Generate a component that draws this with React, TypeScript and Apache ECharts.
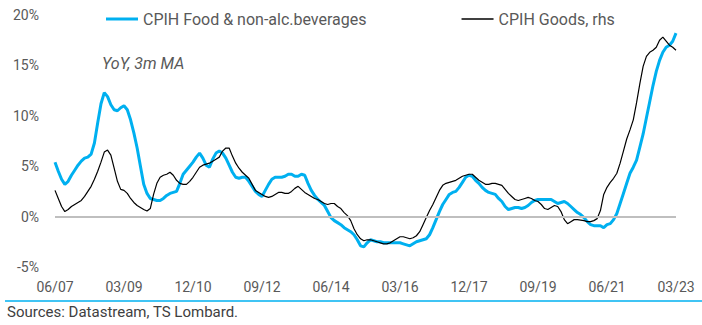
import React, { useEffect, useRef } from "react";
import * as echarts from "echarts";

// Monthly categories 06/07 .. 03/23
const START_YEAR = 2007;
const START_MONTH = 6;
const N_MONTHS = 190;
const months: string[] = [];
for (let i = 0; i < N_MONTHS; i++) {
  const m = ((START_MONTH - 1 + i) % 12) + 1;
  const y = START_YEAR + Math.floor((START_MONTH - 1 + i) / 12);
  months.push(String(m).padStart(2, "0") + "/" + String(y % 100).padStart(2, "0"));
}

const food: number[] = [
  5.4, 4.5, 3.7, 3.2, 3.5, 4.1, 4.6, 5.1, 5.5, 5.8, 5.9, 6.2,
  7.3, 9.3, 11.2, 12.3, 11.9, 11.1, 10.6, 10.5, 10.8, 11.0, 10.6, 9.6,
  8.3, 6.8, 5.0, 3.2, 2.3, 1.8, 1.7, 1.6, 1.6, 1.8, 2.1, 2.3,
  2.4, 2.5, 3.3, 4.2, 4.6, 5.0, 5.4, 5.9, 6.3, 5.8, 5.1, 4.9,
  5.7, 6.3, 6.5, 6.3, 5.8, 5.1, 4.4, 3.9, 3.8, 3.9, 3.9, 3.5,
  3.0, 2.5, 2.2, 2.0, 2.6, 3.2, 3.7, 3.9, 3.9, 3.9, 4.0, 4.2,
  4.2, 4.0, 4.0, 4.2, 4.1, 3.3, 2.6, 2.1, 1.7, 1.4, 1.1, 0.5,
  -0.1, -0.4, -0.6, -0.8, -1.1, -1.3, -1.5, -1.8, -2.3, -2.9, -3.0, -2.6,
  -2.3, -2.4, -2.5, -2.5, -2.6, -2.6, -2.6, -2.6, -2.6, -2.6, -2.7, -2.8,
  -2.9, -2.7, -2.5, -2.4, -2.3, -2.2, -1.8, -1.1, -0.3, 0.5, 1.2, 1.7,
  2.2, 2.4, 2.5, 2.9, 3.4, 3.9, 4.1, 4.0, 3.6, 3.3, 2.9, 2.6,
  2.4, 2.3, 2.2, 1.8, 1.5, 1.0, 0.7, 0.8, 0.9, 0.9, 0.8, 0.9,
  1.1, 1.4, 1.6, 1.7, 1.7, 1.7, 1.7, 1.7, 1.5, 1.3, 1.4, 1.5,
  1.3, 1.0, 0.7, 0.4, 0.2, -0.1, -0.5, -0.8, -0.9, -0.9, -0.9, -1.1,
  -0.8, -0.7, -0.3, 0.3, 1.3, 2.3, 3.3, 4.3, 4.9, 5.6, 6.9, 8.2,
  9.8, 11.4, 13.0, 14.4, 15.5, 16.3, 16.8, 17.0, 17.4, 18.2,
];

const goods: number[] = [
  2.6, 1.8, 1.0, 0.5, 0.7, 1.0, 1.2, 1.4, 1.6, 2.0, 2.5, 3.0,
  3.7, 4.5, 5.4, 6.4, 6.6, 6.1, 4.8, 3.5, 2.7, 2.6, 2.3, 1.8,
  1.4, 1.1, 0.9, 0.7, 0.55, 0.8, 2.2, 3.3, 3.9, 4.1, 4.2, 4.4,
  4.1, 3.6, 3.3, 3.2, 3.2, 3.5, 3.9, 4.4, 4.9, 5.1, 5.2, 5.3,
  5.5, 5.7, 5.9, 6.5, 6.8, 6.8, 6.0, 5.3, 4.8, 4.4, 4.1, 3.8,
  3.2, 2.6, 2.4, 2.2, 2.0, 1.9, 2.0, 2.2, 2.4, 2.4, 2.3, 2.3,
  2.5, 2.8, 3.0, 2.7, 2.4, 2.2, 2.0, 1.8, 1.7, 1.5, 1.3, 1.2,
  1.3, 1.3, 1.0, 0.8, 0.4, 0.1, -0.4, -1.2, -1.8, -2.2, -2.4, -2.3,
  -2.3, -2.4, -2.5, -2.6, -2.7, -2.7, -2.6, -2.4, -2.2, -2.0, -2.0, -2.1,
  -2.2, -2.1, -1.9, -1.5, -0.8, -0.1, 0.6, 1.2, 1.9, 2.6, 3.1, 3.3,
  3.4, 3.5, 3.6, 3.8, 4.0, 4.1, 4.2, 4.2, 3.9, 3.6, 3.4, 3.2,
  3.2, 3.3, 3.3, 3.2, 3.1, 2.7, 2.3, 2.0, 1.7, 1.6, 1.7, 1.8,
  1.9, 1.8, 1.6, 1.5, 1.2, 0.8, 0.7, 0.9, 1.1, 1.0, 0.5, -0.3,
  -0.7, -0.5, -0.3, -0.3, -0.35, -0.4, -0.5, -0.5, -0.4, -0.2, 0.6, 2.2,
  2.9, 3.4, 3.8, 4.3, 5.3, 6.5, 7.7, 8.6, 9.6, 11.3, 13.2, 14.9,
  15.9, 16.3, 16.5, 16.8, 17.5, 17.8, 17.4, 17.0, 16.8, 16.5,
];

const Y_MIN = -5;
const Y_MAX = 20;
const Y_STEP = 5;
const LABEL_EVERY = 21;

const FOOD_NAME = "CPIH Food & non-alc.beverages";
const GOODS_NAME = "CPIH Goods, rhs";
const NOTE = "YoY, 3m MA";
const SOURCE = "Sources: Datastream, TS Lombard.";

const BLUE = "#00b0f0";
const TEXT = "#595959";
const FONT = "Roboto";

export default function App() {
  const ref = useRef<HTMLDivElement>(null);
  useEffect(() => {
    if (!ref.current) return;
    const chart = echarts.init(ref.current, null, { renderer: "svg" });
    chart.setOption({
      animation: false,
      backgroundColor: "#ffffff",
      textStyle: { fontFamily: FONT },
      grid: { left: 55, right: 26, top: 15, bottom: 58, containLabel: false },
      legend: {
        left: 101,
        top: 6,
        itemWidth: 32,
        itemHeight: 14,
        itemGap: 95,
        symbolKeepAspect: true,
        textStyle: { color: TEXT, fontSize: 16, fontFamily: FONT },
        data: [
          { name: FOOD_NAME, icon: "path://M0,0H32V3H0Z" },
          { name: GOODS_NAME, icon: "path://M0,0H32V1.3H0Z" },
        ],
      },
      xAxis: {
        type: "category",
        data: months,
        boundaryGap: false,
        axisLine: { show: false },
        axisTick: { show: false },
        splitLine: { show: false },
        axisLabel: {
          color: TEXT,
          fontSize: 14,
          fontFamily: FONT,
          margin: 13,
          interval: (idx: number) => idx % LABEL_EVERY === 0,
        },
      },
      yAxis: [
        {
          type: "value",
          min: Y_MIN,
          max: Y_MAX,
          interval: Y_STEP,
          axisLine: { show: false },
          axisTick: { show: false },
          splitLine: { show: false },
          axisLabel: {
            color: TEXT,
            fontSize: 14,
            fontFamily: FONT,
            margin: 16,
            formatter: "{value}%",
          },
        },
        {
          type: "value",
          min: Y_MIN,
          max: Y_MAX,
          interval: Y_STEP,
          axisLine: { show: false },
          axisTick: { show: false },
          splitLine: { show: false },
          axisLabel: { show: false },
        },
      ],
      graphic: [
        {
          type: "text",
          left: 102,
          top: 55,
          style: {
            text: NOTE,
            fill: TEXT,
            fontSize: 16,
            fontStyle: "italic",
            fontFamily: FONT,
          },
        },
        {
          type: "line",
          shape: { x1: 5, y1: 301, x2: 702, y2: 301 },
          style: { stroke: BLUE, lineWidth: 1.5 },
        },
        {
          type: "text",
          left: 7,
          top: 304,
          style: {
            text: SOURCE,
            fill: "#404040",
            fontSize: 15,
            fontFamily: FONT,
          },
        },
      ],
      series: [
        {
          name: FOOD_NAME,
          type: "line",
          data: food,
          symbol: "none",
          yAxisIndex: 0,
          lineStyle: { color: BLUE, width: 3 },
          itemStyle: { color: BLUE },
          markLine: {
            silent: true,
            symbol: "none",
            label: { show: false },
            lineStyle: { color: "#bfbfbf", width: 2, type: "solid" },
            data: [{ yAxis: 0 }],
          },
          z: 2,
        },
        {
          name: GOODS_NAME,
          type: "line",
          data: goods,
          symbol: "none",
          yAxisIndex: 1,
          lineStyle: { color: "#000000", width: 1.2 },
          itemStyle: { color: "#000000" },
          z: 3,
        },
      ],
    });
    return () => chart.dispose();
  }, []);
  return (
    <div
      ref={ref}
      style={{ position: "fixed", left: 0, top: 0, width: 702, height: 325 }}
    />
  );
}
